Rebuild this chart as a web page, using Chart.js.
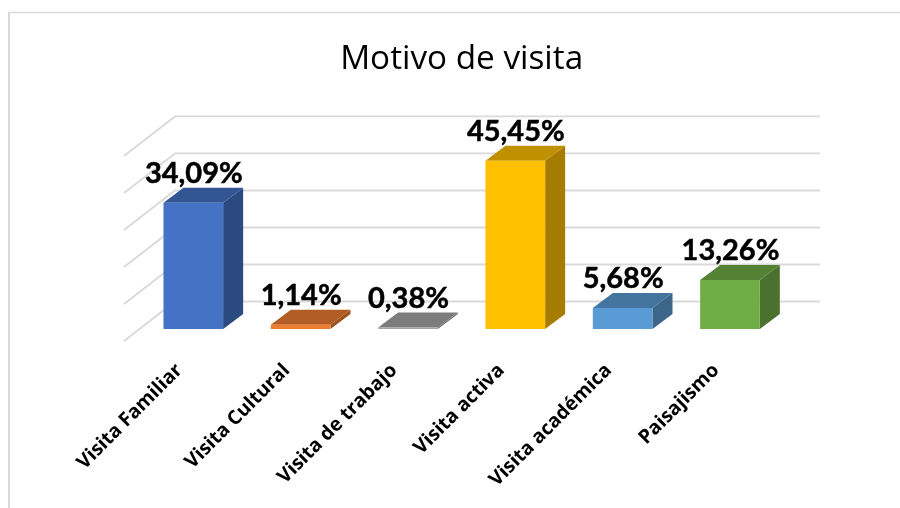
<!DOCTYPE html>
<html><head><meta charset="utf-8">
<style>html,body{margin:0;padding:0;background:#fff;overflow:hidden}#wrap{width:900px;height:508px}canvas{display:block}</style>
<script src="https://cdn.jsdelivr.net/npm/chart.js@4/dist/chart.umd.min.js"></script>
</head><body><div id="wrap"><canvas id="c" width="900" height="508"></canvas></div>
<script>
const chartTitle = "Motivo de visita";
const categories = ["Visita Familiar","Visita Cultural","Visita de trabajo","Visita activa","Visita académica","Paisajismo"];
const values = [34.09,1.14,0.38,45.45,5.68,13.26];
const axisTicks = [0,10,20,30,40,50];
const frontColors = ["#4472c4","#ed7d31","#a5a5a5","#ffc000","#5b9bd5","#70ad47"];
const topColors = ["#335593","#b15d24","#7c7c7c","#bf9000","#4474a0","#548235"];
const sideColors = ["#2a4a80","#9b5220","#6c6c6c","#a67c00","#3b6589","#4a712e"];

const DX = 20, DY = -15;
const gridColor = "#d9d9d9";

const frame = {id:"frame",beforeDraw(ch){
  const c=ch.ctx;c.save();c.strokeStyle=gridColor;
  c.lineWidth=2;c.beginPath();c.moveTo(9,508);c.lineTo(9,12.5);c.stroke();
  c.lineWidth=1.5;c.beginPath();c.moveTo(8,12.5);c.lineTo(900,12.5);c.stroke();
  c.restore();
}};
const wall = {id:"wall",beforeDatasetsDraw(ch){
  const c=ch.ctx,y=ch.scales.y;c.save();c.strokeStyle=gridColor;c.lineWidth=1.8;
  axisTicks.forEach(v=>{
    const p=y.getPixelForValue(v);
    c.beginPath();c.moveTo(124,p+12);c.lineTo(175,p-27.5);c.lineTo(820,p-27.5);c.stroke();
  });
  ch.getDatasetMeta(0).data.forEach((b,i)=>{
    const l=b.x-b.width/2,r=b.x+b.width/2,t=b.y,bs=b.base;
    c.fillStyle=sideColors[i];c.beginPath();
    c.moveTo(r,t);c.lineTo(r+DX,t+DY);c.lineTo(r+DX,bs+DY);c.lineTo(r,bs);c.closePath();c.fill();
    c.fillStyle=topColors[i];c.beginPath();
    c.moveTo(l,t);c.lineTo(l+DX,t+DY);c.lineTo(r+DX,t+DY);c.lineTo(r,t);c.closePath();c.fill();
  });
  c.restore();
}};
const valueLabels = {id:"valueLabels",afterDatasetsDraw(ch){
  const c=ch.ctx;c.save();c.fillStyle="#000";c.strokeStyle="#000";c.lineWidth=0.5;c.font="bold 29px Lato";c.textAlign="center";c.textBaseline="alphabetic";
  ch.getDatasetMeta(0).data.forEach((b,i)=>{
    const s=values[i].toFixed(2).replace(".",",")+"%";
    c.fillText(s,b.x+0.5,b.y-20);
    c.strokeText(s,b.x+0.5,b.y-20);
  });
  c.restore();
}};

new Chart(document.getElementById("c"),{
  type:"bar",
  data:{labels:categories,datasets:[{data:values,backgroundColor:frontColors,borderWidth:0,categoryPercentage:1,barPercentage:0.556}]},
  options:{
    responsive:false,animation:false,
    layout:{padding:{left:139.65,right:116.35,top:0,bottom:0}},
    plugins:{
      legend:{display:false},tooltip:{enabled:false},
      title:{display:true,text:chartTitle,fullSize:false,color:"#000",font:{family:"Open Sans",size:33.3,weight:"normal",lineHeight:1.2},padding:{top:39.5,bottom:64.5}}
    },
    scales:{
      x:{grid:{display:false},border:{display:false},
        afterFit(s){s.height=179;},
        ticks:{autoSkip:false,minRotation:45,maxRotation:45,color:"#000",padding:22,labelOffset:-14,font:{family:"Open Sans",size:19.5,weight:"bold"}}},
      y:{display:false,min:0,max:50,ticks:{stepSize:10}}
    }
  },
  plugins:[frame,wall,valueLabels]
});
</script></body></html>
